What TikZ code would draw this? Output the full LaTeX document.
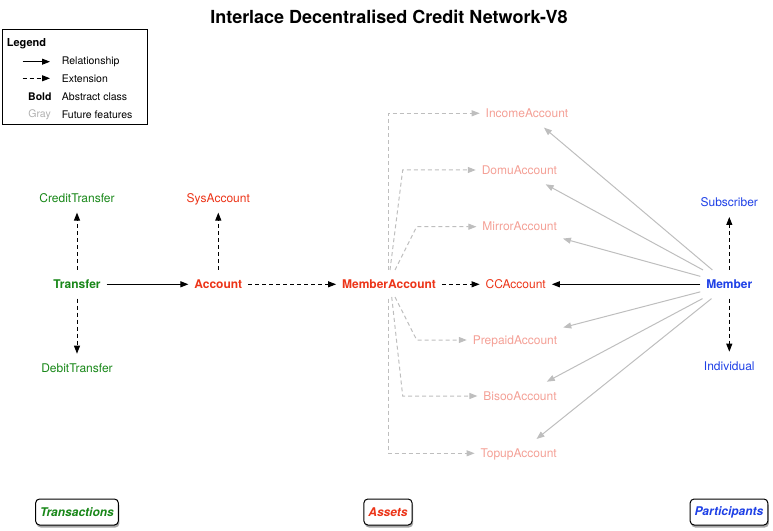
\documentclass[tikz,border=0pt]{standalone}
\usepackage{fontspec}
\setmainfont{TeX Gyre Heros}
\usetikzlibrary{arrows.meta,shadows}
\definecolor{cgreen}{RGB}{24,135,24}
\definecolor{cred}{RGB}{236,52,24}
\definecolor{cblue}{RGB}{30,64,230}
\definecolor{cfut}{RGB}{244,160,150}
\definecolor{cgline}{RGB}{190,190,190}
\definecolor{clgray}{RGB}{175,175,175}
\begin{document}
\begin{tikzpicture}[x=1bp,y=-1bp,
  lbl/.style={inner xsep=6bp, inner ysep=10bp, outer sep=0pt, text height=8.6bp, text depth=0bp, font=\fontsize{12bp}{14bp}\selectfont},
  abs/.style={lbl, font=\fontsize{12bp}{14bp}\selectfont\bfseries},
  fut/.style={lbl, text=cfut},
  tipA/.style={-{Triangle[length=8bp,width=6bp]}},
  relline/.style={tipA, line width=1bp, black},
  extline/.style={tipA, line width=1bp, black, dash pattern=on 4bp off 3bp},
  grel/.style={tipA, line width=1bp, cgline},
  gext/.style={tipA, line width=1bp, cgline, dash pattern=on 4bp off 3bp},
  catbox/.style={draw, line width=1bp, rounded corners=4bp, fill=white,
    drop shadow={shadow xshift=1bp, shadow yshift=-2.5bp, fill=black, opacity=0.35},
    minimum height=26bp, inner xsep=4.5bp, inner ysep=0bp,
    font=\fontsize{12bp}{14bp}\selectfont\bfseries\itshape},
  legtxt/.style={anchor=west, inner sep=0pt, font=\fontsize{10.5bp}{12bp}\selectfont}
]
\useasboundingbox (0,0) rectangle (773,531);

% title
\node[inner sep=0pt, font=\fontsize{18bp}{20bp}\selectfont\bfseries] (title) at (389,17) {Interlace Decentralised Credit Network-V8};

% legend
\draw[line width=1bp] (2,30) rectangle (147,125);
\node[anchor=west, inner sep=0pt, font=\fontsize{11bp}{13bp}\selectfont\bfseries] (lgh) at (6.7,43.3) {Legend};
\coordinate (la1) at (22.7,61.7); \coordinate (lb1) at (50,61.7);
\coordinate (la2) at (22.7,78.3); \coordinate (lb2) at (50,78.3);
\draw[relline] (la1) -- (lb1);
\draw[extline] (la2) -- (lb2);
\node[legtxt] (lt1) at (61.7,61.7) {Relationship};
\node[legtxt] (lt2) at (61.7,78.3) {Extension};
\node[legtxt, anchor=east, font=\fontsize{10.5bp}{12bp}\selectfont\bfseries] (lk3) at (51.7,96.7) {Bold};
\node[legtxt] (lt3) at (61.7,96.7) {Abstract class};
\node[legtxt, anchor=east, text=clgray] (lk4) at (51,114.3) {Gray};
\node[legtxt] (lt4) at (61.7,114.3) {Future features};

% transactions column
\node[abs, text=cgreen] (tr) at (77,284.3) {Transfer};
\node[lbl, text=cgreen] (ctr) at (77,198.3) {CreditTransfer};
\node[lbl, text=cgreen] (dtr) at (77,368) {DebitTransfer};
\draw[extline] (tr) -- (ctr);
\draw[extline] (tr) -- (dtr);

% assets
\node[abs, text=cred] (acc) at (218.3,284.3) {Account};
\node[lbl, text=cred] (sys) at (218.3,198.3) {SysAccount};
\node[abs, text=cred] (ma) at (389,284.3) {MemberAccount};
\node[lbl, text=cred] (cc) at (515.7,284.3) {CCAccount};
\node[fut] (inc) at (527,113.3) {IncomeAccount};
\node[fut] (dom) at (519.4,170) {DomuAccount};
\node[fut] (mir) at (519.7,226.7) {MirrorAccount};
\node[fut] (pre) at (515,340) {PrepaidAccount};
\node[fut] (bis) at (520,396) {BisooAccount};
\node[fut] (top) at (518.7,453.3) {TopupAccount};

\draw[relline] (tr) -- (acc);
\draw[extline] (acc) -- (sys);
\draw[extline] (acc) -- (ma);
\draw[extline] (ma) -- (cc);

% gray extension elbows
\coordinate (b1) at (388.3,113.3);
\coordinate (s2) at (390,270);   \coordinate (b2) at (402.7,170);
\coordinate (s3) at (395,270);   \coordinate (b3) at (416.7,226.7);
\coordinate (s5) at (395,297);   \coordinate (b5) at (416.7,340);
\coordinate (s6) at (391.7,297); \coordinate (b6) at (402.7,396);
\coordinate (b7) at (388.3,453.3);
\draw[gext] (ma.north -| b1) -- (b1) -- (inc);
\draw[gext] (s2) -- (b2) -- (dom);
\draw[gext] (s3) -- (b3) -- (mir);
\draw[gext] (s5) -- (b5) -- (pre);
\draw[gext] (s6) -- (b6) -- (bis);
\draw[gext] (ma.south -| b7) -- (b7) -- (top);

% participants
\node[abs, text=cblue] (mem) at (729.3,284.3) {Member};
\node[lbl, text=cblue] (sub) at (729.3,202.7) {Subscriber};
\node[lbl, text=cblue] (ind) at (729.3,366) {Individual};
\draw[extline] (mem) -- (sub);
\draw[extline] (mem) -- (ind);
\draw[relline] (mem) -- (cc);
\foreach \t in {inc,dom,mir,pre,bis,top} { \draw[grel] (mem) -- (\t); }

% category boxes
\node[catbox, text=cgreen] (ctx) at (77,512) {Transactions};
\node[catbox, text=cred] (cas) at (388,512) {Assets};
\node[catbox, text=cblue] (cpa) at (729,512) {Participants};
\end{tikzpicture}
\end{document}
